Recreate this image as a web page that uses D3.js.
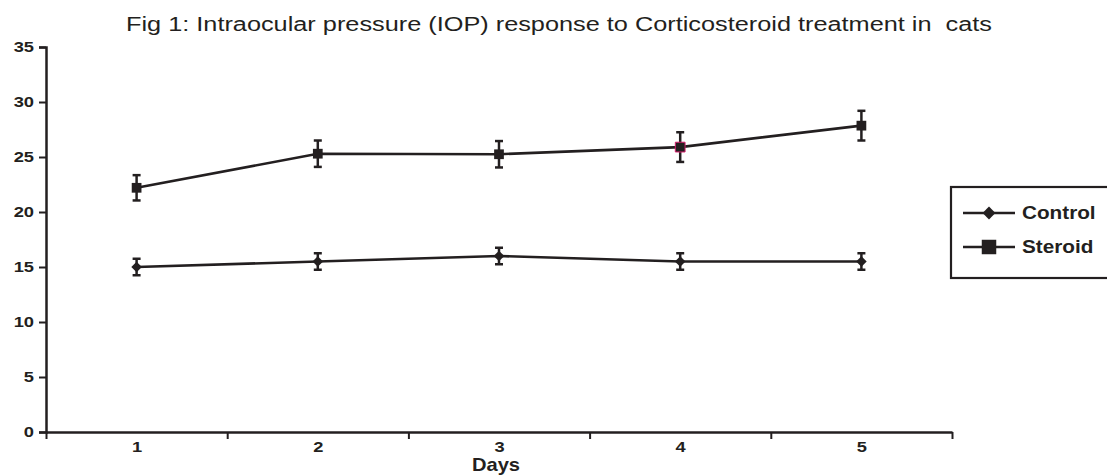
<!DOCTYPE html>
<html><head><meta charset="utf-8">
<script src="https://cdn.jsdelivr.net/npm/d3@7"></script>
<style>body{margin:0;background:#fff}svg{display:block}text{font-family:Arial,"Liberation Sans",sans-serif;fill:#231f20}</style>
</head><body>
<svg id="c" width="1107" height="476"></svg>
<script>
const days = [1, 2, 3, 4, 5];
const controlMean = [15.0, 15.5, 16.0, 15.5, 15.5];
const controlErr = [0.75, 0.75, 0.75, 0.75, 0.75];
const steroidMean = [22.2, 25.3, 25.25, 25.9, 27.85];
const steroidErr = [1.15, 1.2, 1.2, 1.35, 1.35];
const yTicks = [0, 5, 10, 15, 20, 25, 30, 35];
const seriesNames = ["Control", "Steroid"];

const ink = "#231f20";
const svg = d3.select("#c");
const x = d3.scaleLinear().domain([0.5, 5.5]).range([46, 952]);
const y = d3.scaleLinear().domain([0, 35]).range([432, 47]);

function stretch(sel, f) {
  sel.each(function () {
    const w = this.getComputedTextLength();
    d3.select(this).attr("textLength", w * f).attr("lengthAdjust", "spacingAndGlyphs");
  });
}

const title = svg.append("text").attr("x", 559).attr("y", 31).attr("text-anchor", "middle")
  .style("font-size", "20px").style("white-space", "pre")
  .text("Fig 1: Intraocular pressure (IOP) response to Corticosteroid treatment in  cats");
title.attr("textLength", 866).attr("lengthAdjust", "spacingAndGlyphs");

// y axis
const ya = svg.append("g").attr("transform", "translate(46,0)")
  .call(d3.axisLeft(y).tickValues(yTicks).tickSize(7).tickPadding(5));
ya.select(".domain").attr("stroke", ink).attr("stroke-width", 2.5);
ya.selectAll(".tick line").attr("stroke", ink).attr("stroke-width", 2);
ya.selectAll(".tick text").style("font-size", "15px").style("font-weight", "bold").attr("fill", ink)
  .style("font-family", "Arial, 'Liberation Sans', sans-serif");
stretch(ya.selectAll(".tick text"), 1.22);

// x axis: boundary ticks
const xb = svg.append("g").attr("transform", "translate(0,432)")
  .call(d3.axisBottom(x).tickValues([0.5,1.5,2.5,3.5,4.5,5.5]).tickSize(7).tickSizeOuter(0).tickFormat(""));
xb.select(".domain").attr("stroke", ink).attr("stroke-width", 2.5);
xb.selectAll(".tick line").attr("stroke", ink).attr("stroke-width", 2);
const xl = svg.append("g").attr("transform", "translate(0,432)")
  .call(d3.axisBottom(x).tickValues(days).tickSize(0).tickPadding(9).tickFormat(d3.format("d")));
xl.select(".domain").remove();
xl.selectAll(".tick text").style("font-size", "15px").style("font-weight", "bold").attr("fill", ink)
  .style("font-family", "Arial, 'Liberation Sans', sans-serif");
stretch(xl.selectAll(".tick text"), 1.22);

const xt = svg.append("text").attr("x", 496).attr("y", 471).attr("text-anchor", "middle")
  .style("font-size", "19px").style("font-weight", "bold").text("Days");
stretch(xt, 1.06);

const series = [
  {name: seriesNames[0], mean: controlMean, err: controlErr, sym: d3.symbolDiamond2, size: 72, lsize: 105},
  {name: seriesNames[1], mean: steroidMean, err: steroidErr, sym: d3.symbolSquare, size: 95, lsize: 210}
];
const line = d3.line().x((d, i) => x(days[i])).y(d => y(d));

series.forEach(s => {
  const g = svg.append("g");
  g.append("path").attr("d", line(s.mean)).attr("fill", "none").attr("stroke", ink).attr("stroke-width", 2.6);
  s.mean.forEach((m, i) => {
    const cx = x(days[i]);
    const lo = y(m - s.err[i]), hi = y(m + s.err[i]);
    g.append("line").attr("x1", cx).attr("x2", cx).attr("y1", lo).attr("y2", hi).attr("stroke", ink).attr("stroke-width", 2.5);
    [lo, hi].forEach(v => g.append("line").attr("x1", cx - 4).attr("x2", cx + 4).attr("y1", v).attr("y2", v).attr("stroke", ink).attr("stroke-width", 2.5));
    g.append("path").attr("d", d3.symbol(s.sym, s.size)()).attr("transform", `translate(${cx},${y(m)})`)
      .attr("fill", ink).attr("stroke", (s.name === "Steroid" && i === 3) ? "#d6206e" : "none").attr("stroke-width", 1);
  });
});

// legend
const lg = svg.append("g");
lg.append("rect").attr("x", 951).attr("y", 187).attr("width", 170).attr("height", 91)
  .attr("fill", "#fff").attr("stroke", ink).attr("stroke-width", 2.2);
series.forEach((s, i) => {
  const ly = 213 + i * 34;
  lg.append("line").attr("x1", 963).attr("x2", 1015).attr("y1", ly).attr("y2", ly).attr("stroke", ink).attr("stroke-width", 2.6);
  lg.append("path").attr("d", d3.symbol(s.sym, s.lsize)()).attr("transform", `translate(989,${ly})`).attr("fill", ink);
  const t = lg.append("text").attr("x", 1022).attr("y", ly + 6).style("font-size", "18px").style("font-weight", "bold").text(s.name);
  stretch(t, 1.15);
});
</script>
</body></html>
